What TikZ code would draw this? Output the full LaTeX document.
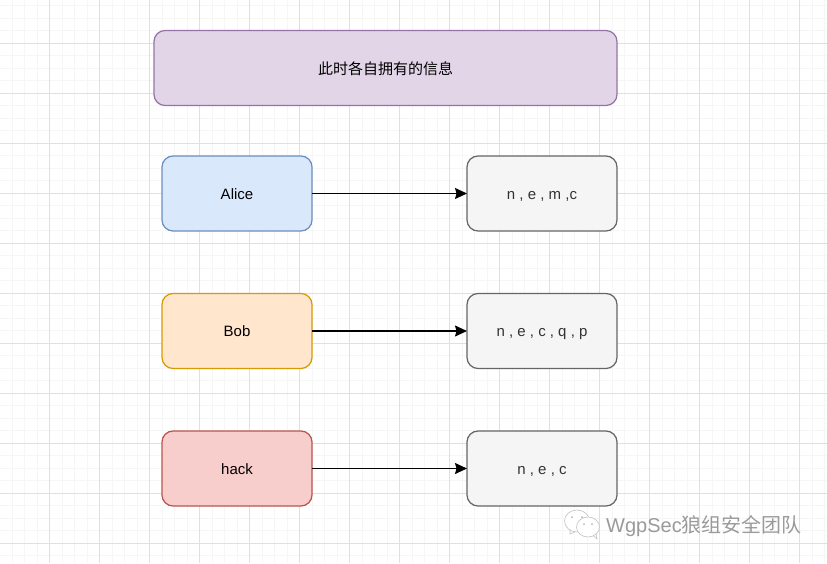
\documentclass[tikz,border=0pt]{standalone}
\usepackage{fontspec}
\setmainfont{Liberation Sans}
\newfontfamily\cjkfont{Noto Sans CJK SC}
\usetikzlibrary{positioning,arrows.meta}

\definecolor{gridmajor}{HTML}{E0E0E0}
\definecolor{gridminor}{HTML}{F6F6F6}
\definecolor{markgray}{HTML}{9A9A9A}

\begin{document}
\begin{tikzpicture}
            [
            x=1pt, y=-1pt,
            box/.style={draw, rounded corners=11pt, line width=1.25pt, outer sep=0pt,
                minimum width=150pt, minimum height=75pt, inner sep=0pt,
                text height=14pt, text depth=3pt,
                font=\fontsize{15}{18}\selectfont},
            info/.style={box, draw=infoline, fill=infofill, text=infotext},
            my arrow/.style={-{Stealth[length=12pt,width=11pt,inset=1.5pt]}, line width=1.25pt}
            ]
            \definecolor{infoline}{HTML}{666666}
            \definecolor{infofill}{HTML}{F5F5F5}
            \definecolor{infotext}{HTML}{333333}
            \definecolor{titleline}{HTML}{9673A6}
            \definecolor{titlefill}{HTML}{E1D5E7}
            \definecolor{aliceline}{HTML}{6C8EBF}
            \definecolor{alicefill}{HTML}{DAE8FC}
            \definecolor{bobline}{HTML}{D79B00}
            \definecolor{bobfill}{HTML}{FFE6CC}
            \definecolor{hackline}{HTML}{B85450}
            \definecolor{hackfill}{HTML}{F8CECC}
            \useasboundingbox (0,0) rectangle (827,563);

            % Background grid
            \foreach \i in {0,...,66}
            \draw [gridminor, line width=.8pt] (12.2+\i*12.5,0) -- (12.2+\i*12.5,563);
            \foreach \i in {0,...,45}
            \draw [gridminor, line width=.8pt] (0,5.8+\i*12.5) -- (827,5.8+\i*12.5);
            \foreach \i in {0,...,15}
            \draw [gridmajor, line width=.8pt] (49.7+\i*50,0) -- (49.7+\i*50,563);
            \foreach \i in {0,...,10}
            \draw [gridmajor, line width=.8pt] (0,43.3+\i*50) -- (827,43.3+\i*50);

            \node (title) at (385.5,68) [box, draw=titleline, fill=titlefill,
                minimum width=463pt, text height=16pt] {\cjkfont 此时各自拥有的信息};
            \node (alice) at (237,193.5) [box, draw=aliceline, fill=alicefill] {Alice};
            \node (bob) [below=62.5pt of alice, box, draw=bobline, fill=bobfill] {Bob};
            \node (hack) [below=62.5pt of bob, box, draw=hackline, fill=hackfill] {hack};

            % Replicated boxes
            \node (alice2) [right=155pt of alice, info] {n , e , m ,c};
            \node (bob2) [right=155pt of bob, info] {n , e , c , q , p};
            \node (hack2) [right=155pt of hack, info] {n , e , c};

            \foreach \i/\j in {alice/alice2,bob/bob2,hack/hack2}
            \draw [my arrow] (\i) -- (\j);

            % Watermark
            \draw [markgray!60, line width=.6pt, fill=white]
                (577,521) ellipse [x radius=12.5pt, y radius=11pt];
            \draw [markgray!60, line width=.6pt] (570,530) -- (570,534) -- (575,532);
            \draw [markgray!60, line width=.6pt, fill=white]
                (588,527) ellipse [x radius=11.5pt, y radius=10pt];
            \draw [markgray!60, line width=.6pt] (593,535.5) -- (597,539) -- (596,533.5);
            \foreach \i/\j in {572/517,582/517,584/524,592/524}
            \fill [markgray!70] (\i,\j) circle [radius=1pt];
            \node (mark) at (704,526) [text=markgray, inner sep=0pt,
                font=\fontsize{20}{24}\selectfont] {WgpSec{\cjkfont 狼组安全团队}};
        \end{tikzpicture}
\end{document}
